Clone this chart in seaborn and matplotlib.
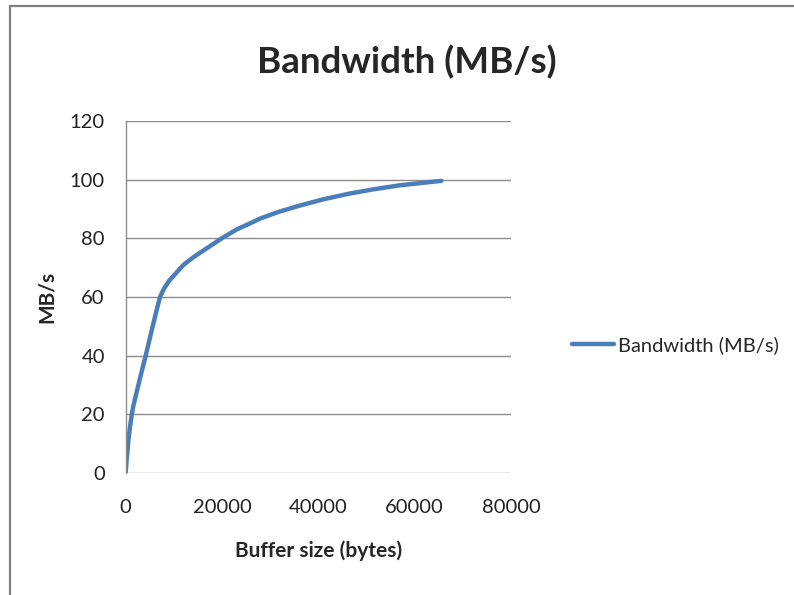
import matplotlib.pyplot as plt
import matplotlib.lines as mlines
import pandas as pd
import seaborn as sb

TITLE = 'Bandwidth (MB/s)'
X_LABEL = 'Buffer size (bytes)'
Y_LABEL = 'MB/s'
SERIES_NAME = 'Bandwidth (MB/s)'

# values
buffer_size = [0, 200, 550, 900, 1250, 1600, 2048, 3000, 4150, 5500, 6300,
               7120, 8000, 9000, 11960, 14000, 16000, 19930, 23000, 25810,
               28000, 31690, 36190, 41000, 46570, 51000, 56950, 65536]
bandwidth = [0, 4.6, 11.0, 15.8, 19.8, 23, 26, 32.5, 40, 49.3, 54.7,
             60, 63.0, 65.5, 70.9, 73.5, 75.7, 80, 83, 85.1,
             86.8, 89.0, 91.2, 93.3, 95.3, 96.6, 98.1, 99.6]

x_ticks = [0, 20000, 40000, 60000, 80000]
y_ticks = [0, 20, 40, 60, 80, 100, 120]

sb.set_style('white')
plt.rcParams['font.family'] = ['Lato', 'DejaVu Sans']

df = pd.DataFrame({X_LABEL: buffer_size, SERIES_NAME: bandwidth})

fig = plt.figure(figsize=(7.94, 5.95), dpi=100)
ax = fig.add_axes([0.1583, 0.205, 0.4853, 0.5916])

sb.lineplot(data=df, x=X_LABEL, y=SERIES_NAME, ax=ax, color='#4A7EBB',
            linewidth=3.2, label=SERIES_NAME)

ax.set_xlim(0, 80000)
ax.set_ylim(0, 120)
ax.set_xticks(x_ticks)
ax.set_yticks(y_ticks)
ax.tick_params(labelsize=14.5, length=0, colors='#222222')
ax.tick_params(axis='x', pad=19)
ax.tick_params(axis='y', pad=15)
ax.grid(axis='y', color='#8C8C8C', linewidth=1.0)
ax.grid(axis='x', visible=False)
for side in ['top', 'right', 'bottom']:
    ax.spines[side].set_visible(False)
ax.spines['left'].set_color('#8C8C8C')
ax.spines['left'].set_linewidth(1.0)

ax.set_xlabel(X_LABEL, fontsize=15, fontweight='bold', labelpad=17)
ax.set_ylabel(Y_LABEL, fontsize=15, fontweight='bold', labelpad=9)
fig.suptitle(TITLE, fontsize=26.5, fontweight='bold', x=0.512, y=0.925)

ax.legend(loc='center left', bbox_to_anchor=(1.11, 0.364), frameon=False,
          fontsize=14.5, handlelength=2.1, handletextpad=0.2)

# outer frame of the chart (top and left edges visible)
fig.add_artist(mlines.Line2D([10 / 794, 1], [1 - 6 / 595, 1 - 6 / 595],
                             transform=fig.transFigure, color='#808080', linewidth=1.6))
fig.add_artist(mlines.Line2D([10 / 794, 10 / 794], [0, 1 - 6 / 595],
                             transform=fig.transFigure, color='#808080', linewidth=1.6))

plt.savefig('out.png', dpi=100)
